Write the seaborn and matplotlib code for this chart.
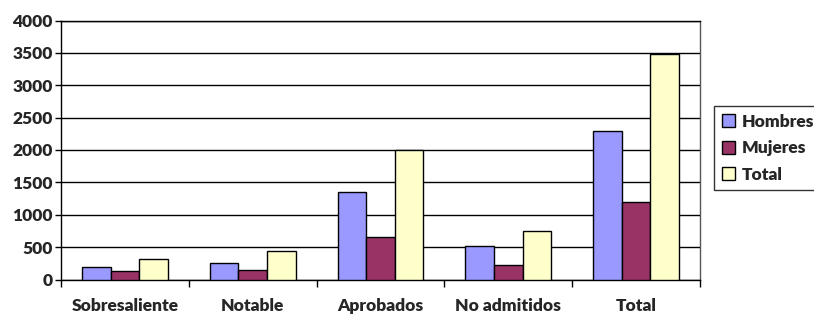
import seaborn as sns
import matplotlib.pyplot as plt
import pandas as pd
from matplotlib.ticker import FixedLocator

categorias = ["Sobresaliente", "Notable", "Aprobados", "No admitidos", "Total"]
hombres = [188, 250, 1356, 517, 2288]
mujeres = [126, 147, 656, 224, 1201]
total = [312, 435, 1995, 749, 3487]
series = ["Hombres", "Mujeres", "Total"]
colores = ["#9999FF", "#993366", "#FFFFCC"]

df = pd.DataFrame({
    "categoria": categorias * 3,
    "serie": [s for s in series for _ in categorias],
    "valor": hombres + mujeres + total,
})

sns.set_style("white")
plt.rcParams["font.family"] = ["Lato", "DejaVu Sans"]
plt.rcParams["font.weight"] = "heavy"

fig = plt.figure(figsize=(8.14, 3.17), dpi=100)
ax = fig.add_axes([61 / 814, 1 - 279.5 / 317, (700 - 61) / 814, 259 / 317])

sns.barplot(data=df, x="categoria", y="valor", hue="serie", order=categorias,
            hue_order=series, palette=colores, width=0.67, edgecolor="black",
            linewidth=1, saturation=1, ax=ax, zorder=3)

ax.set_xlim(-0.5, 4.5)
ax.set_ylim(0, 4000)
ax.set_yticks(range(0, 4001, 500))
ax.yaxis.grid(True, color="black", linewidth=1, zorder=0)
ax.set_axisbelow(True)
ax.set_xlabel("")
ax.set_ylabel("")
for s in ax.spines.values():
    s.set_color("black")
    s.set_linewidth(1)
ax.spines["right"].set_color("#555555")

# marcas entre categorias, etiquetas centradas sin marca
ax.xaxis.set_minor_locator(FixedLocator([-0.5, 0.5, 1.5, 2.5, 3.5, 4.5]))
ax.tick_params(axis="x", which="major", length=0, pad=13.5, labelsize=12.5)
ax.tick_params(axis="x", which="minor", length=5, width=1, color="black", direction="out", bottom=True)
ax.tick_params(axis="y", length=4, width=1, color="black", direction="out", left=True, labelsize=12.5, pad=2)
for lab in ax.get_xticklabels() + ax.get_yticklabels():
    lab.set_fontweight("heavy")

handles, labels = ax.get_legend_handles_labels()
leg = fig.legend(handles, labels, loc="upper left", bbox_to_anchor=(714 / 814, 1 - 106 / 317),
                 frameon=True, fancybox=False, edgecolor="black", fontsize=12.5,
                 handlelength=0.75, handleheight=0.75, handletextpad=0.4,
                 borderpad=0.45, labelspacing=0.6, borderaxespad=0)
leg.get_frame().set_linewidth(1)
ax.get_legend().remove()
for t in leg.get_texts():
    t.set_fontweight("heavy")

fig.savefig("out.png", dpi=100)
